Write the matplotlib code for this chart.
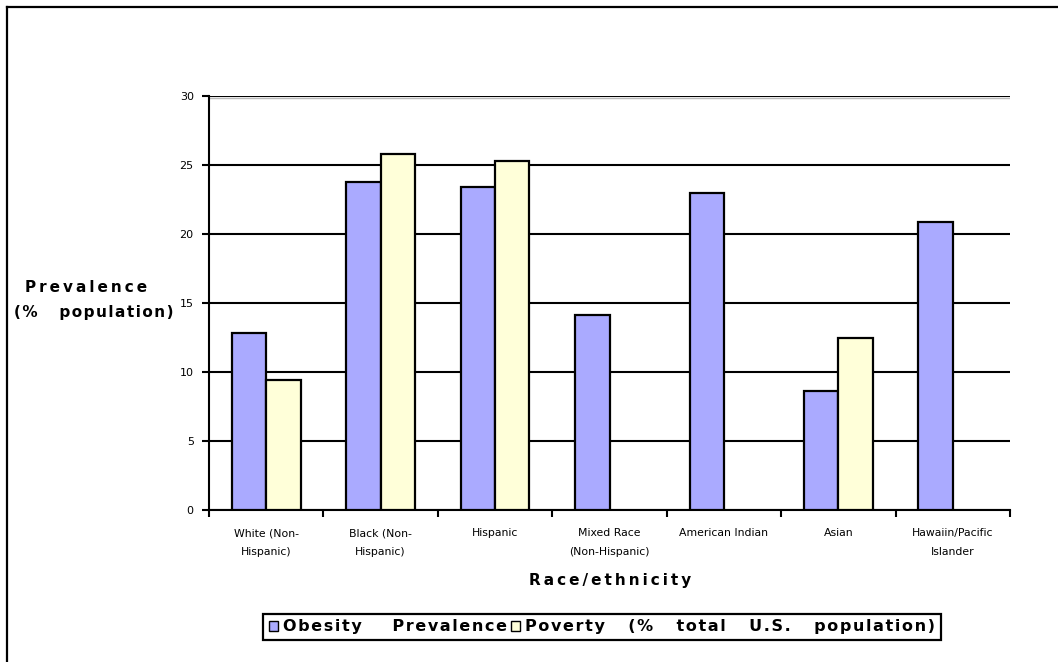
import matplotlib
matplotlib.use("Agg")
import matplotlib.pyplot as plt
import numpy as np
from matplotlib.patches import Patch
from matplotlib.lines import Line2D

categories = ["White (Non-\nHispanic)", "Black (Non-\nHispanic)", "Hispanic",
              "Mixed Race\n(Non-Hispanic)", "American Indian", "Asian",
              "Hawaiin/Pacific\nIslander"]
obesity = [12.8, 23.8, 23.4, 14.1, 23.0, 8.6, 20.9]
poverty = [9.4, 25.8, 25.3, None, None, 12.5, None]
y_ticks = [0, 5, 10, 15, 20, 25, 30]
series_names = ["Obesity    Prevalence", "Poverty   (%   total   U.S.   population)"]
y_label_lines = ["Prevalence", "(%   population)"]
x_label = "Race/ethnicity"

col_ob = "#AAAAFF"
col_pov = "#FFFFD9"


def spaced(s, sep):
    return sep.join(list(s))


fig = plt.figure(figsize=(10.58, 6.62), dpi=100)
ax = fig.add_axes([209/1058, 1-510/662, (1010-209)/1058, (510-96)/662])

x = np.arange(len(categories))
w = 0.3
ax.bar(x - w/2, obesity, width=w, color=col_ob, edgecolor="black", linewidth=1.6, zorder=3)
pv = [np.nan if v is None else v for v in poverty]
ax.bar(x + w/2, pv, width=w, color=col_pov, edgecolor="black", linewidth=1.6, zorder=3)

ax.set_xlim(-0.5, len(categories) - 0.5)
ax.set_ylim(0, 30)
ax.set_yticks(y_ticks)
ax.set_yticklabels([str(t) for t in y_ticks], fontsize=8)
ax.yaxis.grid(True, color="black", linewidth=1.5, zorder=0)
ax.set_axisbelow(True)
ax.axhline(29.85, color="#bbbbbb", linewidth=1.0, zorder=1)

ax.set_xticks(x)
ax.set_xticklabels(categories, fontsize=7.8, linespacing=2.1)
ax.set_xticks(np.arange(len(categories) + 1) - 0.5, minor=True)
ax.tick_params(axis="x", which="major", length=0, pad=13)
ax.tick_params(axis="x", which="minor", length=5, width=1.5, direction="out")
ax.tick_params(axis="y", length=5, width=1.5, direction="out", pad=6)

for s in ["top", "right"]:
    ax.spines[s].set_visible(False)
ax.spines["left"].set_linewidth(1.5)
ax.spines["bottom"].set_linewidth(1.5)

fig.text(86/1058, 1-288/662, spaced(y_label_lines[0], "\u2009"), ha="center", va="center",
         fontsize=11, fontweight="bold")
fig.text(94/1058, 1-312/662, spaced(y_label_lines[1], "\u200a"), ha="center", va="center",
         fontsize=11, fontweight="bold")
fig.text(610/1058, 1-581/662, spaced(x_label, "\u2009"), ha="center", va="center",
         fontsize=11, fontweight="bold")

handles = [Patch(facecolor=col_ob, edgecolor="black", linewidth=1.0),
           Patch(facecolor=col_pov, edgecolor="black", linewidth=1.0)]
leg = fig.legend(handles, [spaced(n, "\u200a") for n in series_names], loc="center",
                 bbox_to_anchor=(602/1058, 1-627/662),
                 ncol=2, frameon=True, fancybox=False, framealpha=1.0,
                 handlelength=0.55, handleheight=0.55,
                 handletextpad=0.3, columnspacing=0.3, borderpad=0.35,
                 prop={"weight": "bold", "size": 11.5})
leg.get_frame().set_edgecolor("black")
leg.get_frame().set_linewidth(1.6)

fig.add_artist(Line2D([7/1058, 7/1058], [0, 1-7/662], color="black", linewidth=1.6, transform=fig.transFigure))
fig.add_artist(Line2D([7/1058, 1], [1-7/662, 1-7/662], color="black", linewidth=1.6, transform=fig.transFigure))

fig.savefig("out.png", dpi=100)
